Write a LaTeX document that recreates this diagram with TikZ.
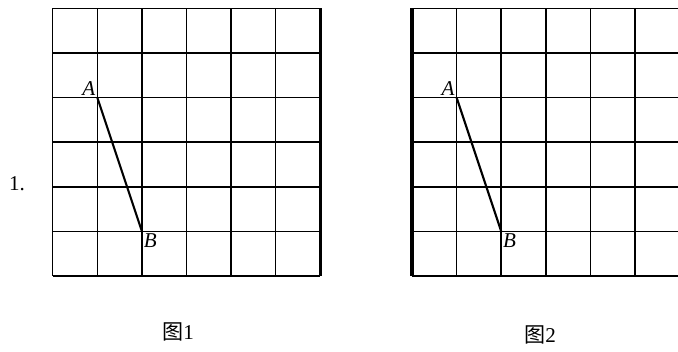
\documentclass[tikz,border=0pt]{standalone}
\usepackage{fontspec}
\setmainfont{Liberation Serif}
\newfontfamily\cjk{Noto Sans CJK SC}
\begin{document}
\begin{tikzpicture}[x=1.338cm,y=1.338cm,
  gridline/.style={line width=1.3pt},
  edgeline/.style={line width=2.6pt},
  seg/.style={line width=1.8pt},
  ptlabel/.style={font=\fontsize{18}{18}\selectfont\itshape,inner sep=1.5pt},
  caption/.style={font=\fontsize{18}{18}\selectfont}]
  \useasboundingbox (-1.182,-1.704) rectangle (14.02,6.188);
  % figure 1
  \foreach \i in {0,...,6} {
    \draw[gridline] (\i,0) -- (\i,6);
    \draw[gridline] (0,\i) -- (6,\i);
  }
  \draw[edgeline] (6,0) -- (6,6);
  \coordinate (A1) at (1,4);
  \coordinate (B1) at (2,1);
  \draw[seg] (A1) -- (B1);
  \node[ptlabel,anchor=south east] (lA1) at (A1) {A};
  \node[ptlabel,anchor=north west] (lB1) at (B1) {B};
  \node[caption] (num) at (-0.80,2.08) {1.};
  \node[caption] (cap1) at (2.81,-1.26) {{\cjk 图}1};
  % figure 2
  \begin{scope}
    \clip (7.9,-0.2) rectangle (14.02,6.2);
    \begin{scope}[shift={(8.056,0)}]
      \foreach \i in {0,...,6} {
        \draw[gridline] (\i,0) -- (\i,6);
        \draw[gridline] (0,\i) -- (6,\i);
      }
      \draw[edgeline] (0,0) -- (0,6);
      \coordinate (A2) at (1,4);
      \coordinate (B2) at (2,1);
      \draw[seg] (A2) -- (B2);
      \node[ptlabel,anchor=south east] (lA2) at (A2) {A};
      \node[ptlabel,anchor=north west] (lB2) at (B2) {B};
    \end{scope}
  \end{scope}
  \node[caption] (cap2) at (10.93,-1.32) {{\cjk 图}2};
\end{tikzpicture}
\end{document}
